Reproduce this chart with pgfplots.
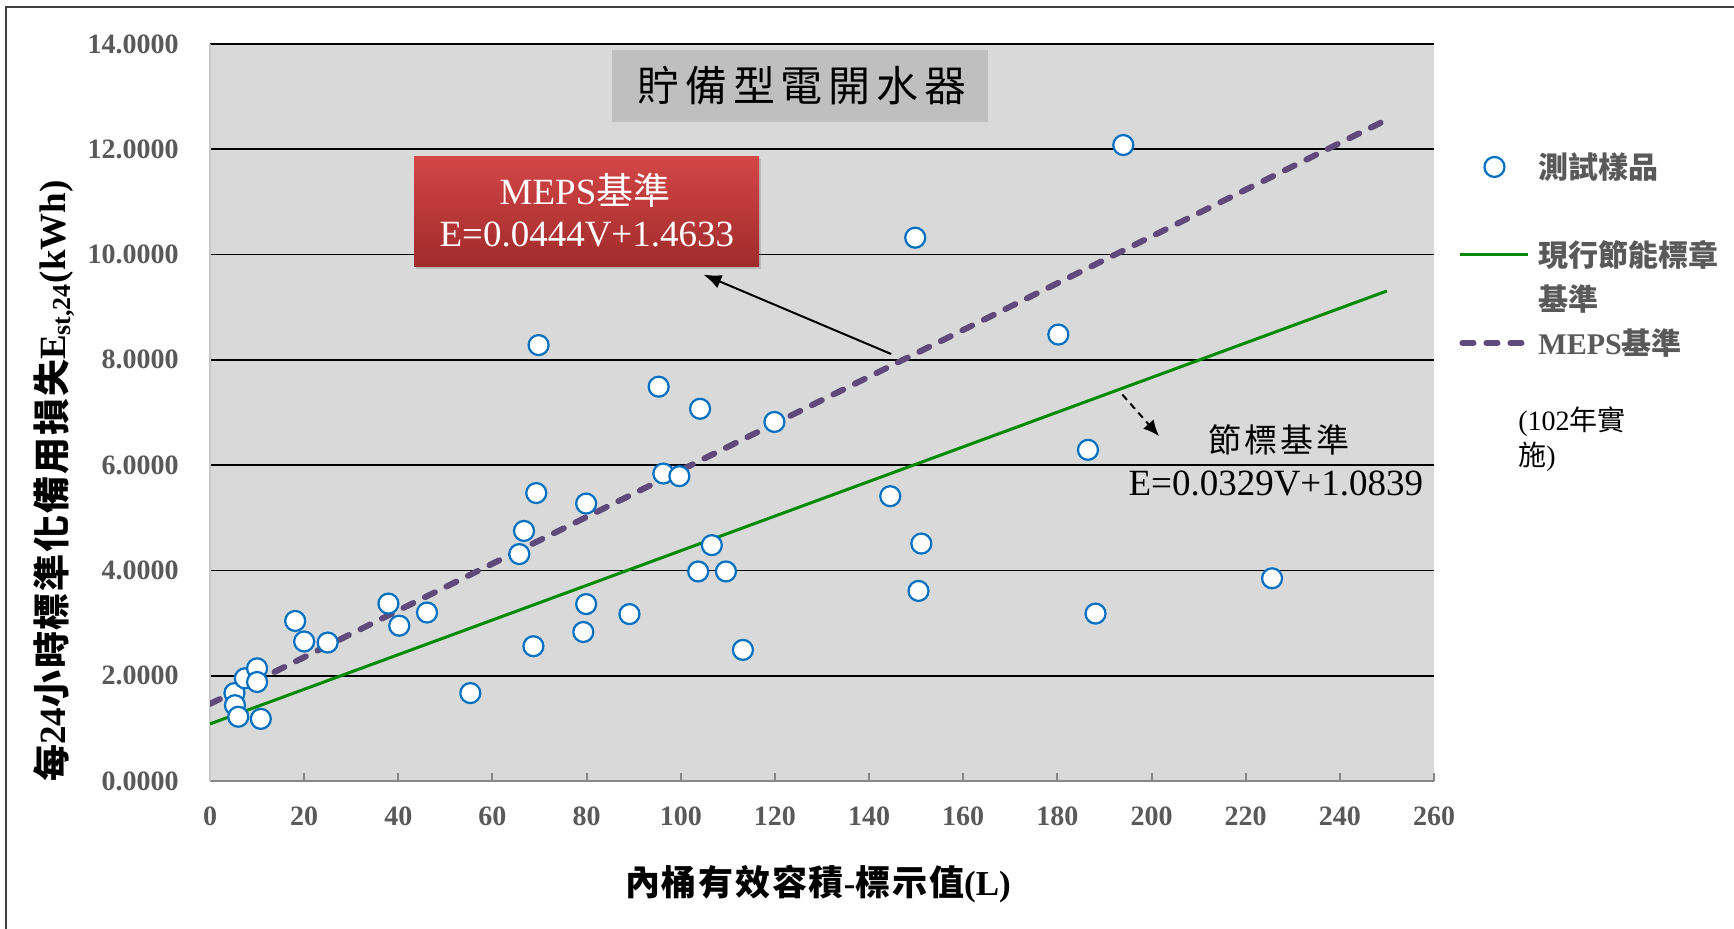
\documentclass[border=0pt]{standalone}
\usepackage{fontspec}
\setmainfont{Liberation Serif}
\newfontfamily\cjk{Noto Sans CJK TC}
\newfontfamily\cjksp[LetterSpace=5]{Noto Sans CJK TC}
\newfontfamily\cjkann[LetterSpace=10]{Noto Sans CJK TC}
\newfontfamily\cjktitle[LetterSpace=14]{Noto Sans CJK TC}
\usepackage{pgfplots}
\usepackage{pgfplotstable}
\pgfplotsset{compat=1.18}
\usetikzlibrary{shadows,arrows.meta}
\definecolor{plotbg}{HTML}{D9D9D9}
\definecolor{tickgray}{HTML}{595959}
\definecolor{axgray}{HTML}{868686}
\definecolor{mblue}{HTML}{0070C0}
\definecolor{lgreen}{HTML}{008A00}
\definecolor{lpurple}{HTML}{604A7B}
\definecolor{titlebg}{HTML}{BFBFBF}
\definecolor{redtop}{HTML}{D44646}
\definecolor{redbot}{HTML}{A12B2B}
\definecolor{framecol}{HTML}{404040}
\pgfplotsset{
  mklegend/.style={legend image code/.code={\draw[##1] plot coordinates {(17pt,0pt)};}},
  lnlegend/.style={legend image code/.code={\draw[##1] (0pt,0pt) -- (34pt,0pt);}},
  dslegend/.style={legend image code/.code={\draw[##1] (1pt,0pt) -- (36pt,0pt);}},
}
\pgfplotstableread{
x y
5.2 1.67
5.3 1.44
6.0 1.22
7.4 1.95
10.0 2.14
10.0 1.88
10.8 1.18
18.1 3.04
20.0 2.65
25.0 2.63
37.9 3.37
40.2 2.95
46.1 3.20
55.3 1.67
65.7 4.31
66.7 4.75
68.7 2.56
69.3 5.47
69.8 8.28
79.3 2.83
79.9 3.36
79.9 5.27
89.1 3.17
95.3 7.49
96.3 5.84
99.7 5.79
103.7 3.98
104.1 7.07
106.6 4.48
109.6 3.98
113.2 2.49
119.9 6.82
144.5 5.41
149.8 10.32
150.5 3.61
151.1 4.51
180.2 8.48
186.5 6.29
188.1 3.18
194.0 12.08
225.6 3.85
}\samples
\pgfplotstableread{
x y
0 1.0839
250 9.3089
}\labelline
\pgfplotstableread{
x y
0 1.4633
250 12.5633
}\mepsline
\begin{document}
\begin{tikzpicture}
\fill[white] (0,0) rectangle (867pt,464.5pt);
\useasboundingbox (0,0) rectangle (867pt,464.5pt);
\draw[framecol, line width=0.8pt] (3pt,0pt) -- (3pt,461pt) -- (867pt,461pt);
\begin{axis}[
  at={(105pt,74pt)}, anchor=south west,
  scale only axis, width=612pt, height=368.5pt,
  xmin=0, xmax=260, ymin=0, ymax=14,
  xtick={0,20,...,260}, ytick={0,2,...,14},
  axis background/.style={fill=plotbg},
  axis x line*=bottom, axis y line*=left,
  x axis line style={axgray, line width=1pt, -},
  y axis line style={color=plotbg!80!gray, line width=1pt, -},
  tick align=inside, major tick length=4pt,
  x tick style={axgray, line width=1pt},
  y tick style={draw=none},
  ymajorgrids, major grid style={black, line width=0.9pt},
  /pgf/number format/assume math mode=true,
  tick label style={font=\fontsize{14}{14}\selectfont\bfseries, text=tickgray, inner sep=0pt},
  xticklabel style={anchor=north, yshift=-12.5pt},
  yticklabel style={anchor=east, xshift=-15.5pt},
  y tick label style={/pgf/number format/.cd, fixed, fixed zerofill, precision=4, /tikz/.cd},
  legend style={at={(1.0204,0.8630)}, anchor=north west, draw=none, fill=none,
    inner sep=0pt, outer sep=0pt, row sep=0pt, column sep=1.5pt,
    font=\fontsize{15}{15}\selectfont\bfseries, text=tickgray,
    nodes={inner sep=0pt, text height=16.7pt, text depth=5.3pt}},
  legend cell align=left,
]
\addplot[forget plot, lgreen, line width=1.5pt] table {\labelline};
\addplot[forget plot, lpurple, line width=3pt, line cap=round, dash pattern=on 5.5pt off 6.5pt] table {\mepsline};
\addplot[forget plot, only marks, mark=*, mark size=5pt, mark options={draw=mblue, fill=white, line width=1.1pt}] table {\samples};
\addlegendimage{only marks, mark=*, mark size=5pt, mark options={draw=mblue, fill=white, line width=1.1pt}, mklegend}
\addlegendentry{{\cjk 測試樣品}}
\addlegendimage{empty legend}
\addlegendentry{}
\addlegendimage{lgreen, line width=1.5pt, lnlegend}
\addlegendentry{{\cjk 現行節能標章}}
\addlegendimage{empty legend}
\addlegendentry{{\cjk 基準}}
\addlegendimage{lpurple, line width=3pt, line cap=round, dash pattern=on 5.5pt off 6.5pt, dslegend}
\addlegendentry{MEPS{\cjk 基準}}
\draw[-{Latex[length=9pt,width=7pt]}, line width=1pt] (axis cs:144.7,8.11) -- (axis cs:104.8,9.62);
\draw[-{Latex[length=8pt,width=7pt]}, line width=1pt, dash pattern=on 3.5pt off 2.5pt] (axis cs:193.8,7.34) -- (axis cs:201.6,6.55);
\end{axis}
% title box
\fill[titlebg] (305.75pt,403.5pt) rectangle (493.75pt,439.5pt);
\node[inner sep=0pt, font=\fontsize{21}{21}\selectfont] at (401pt,421.5pt) {\cjktitle 貯備型電開水器};
% MEPS box
\shade[top color=redtop, bottom color=redbot, drop shadow={opacity=0.35, shadow xshift=1pt, shadow yshift=-1.5pt}] (207pt,331.3pt) rectangle (379.5pt,386.3pt);
\node[inner sep=0pt, text=white, font=\fontsize{18.5}{18.5}\selectfont] at (292.5pt,369.5pt) {MEPS{\cjk 基準}};
\node[inner sep=0pt, text=white, font=\fontsize{18.5}{18.5}\selectfont] at (293.4pt,347.5pt) {E=0.0444V+1.4633};
% label-standard annotation
\node[inner sep=0pt, font=\fontsize{16.5}{16.5}\selectfont] at (639.5pt,244.5pt) {\cjkann 節標基準};
\node[inner sep=0pt, font=\fontsize{18.5}{18.5}\selectfont] at (637.9pt,222.75pt) {E=0.0329V+1.0839};
% note
\node[inner sep=0pt, anchor=west, font=\fontsize{14}{14}\selectfont] at (759pt,253.5pt) {(102{\cjk 年實}};
\node[inner sep=0pt, anchor=west, font=\fontsize{14}{14}\selectfont] at (759pt,236pt) {{\cjk 施})};
% axis labels
\node[inner sep=0pt, font=\fontsize{17.5}{17.5}\selectfont\bfseries] at (409pt,22.5pt) {{\cjksp 內桶有效容積}-{\cjksp 標示值}(L)};
\node[inner sep=0pt, rotate=90, font=\fontsize{18.5}{18.5}\selectfont\bfseries] at (27pt,224pt) {{\cjksp 每}24{\cjksp 小時標準化備用損失}E\textsubscript{st,24}(kWh)};
\end{tikzpicture}
\end{document}
